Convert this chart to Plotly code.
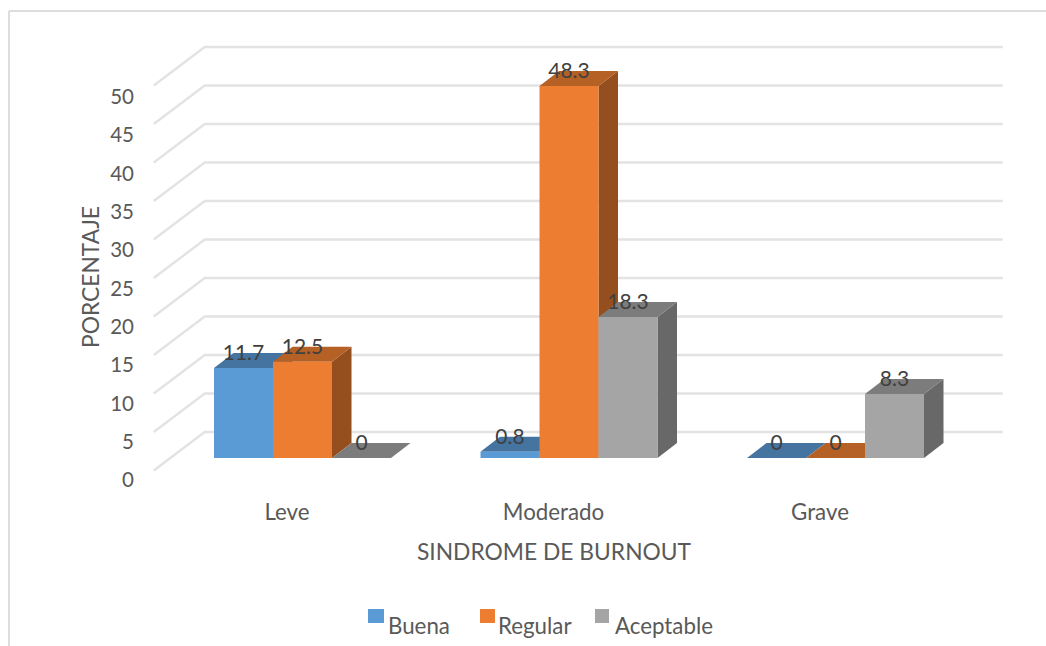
import plotly.graph_objects as go

# Survey results: share of respondents per burnout level and rating
categories = ["Leve", "Moderado", "Grave"]
buena = [11.7, 0.8, 0]
regular = [12.5, 48.3, 0]
aceptable = [0, 18.3, 8.3]
series_names = ["Buena", "Regular", "Aceptable"]
y_ticks = [0, 5, 10, 15, 20, 25, 30, 35, 40, 45, 50]

# (front, top, side) shades for each series
FACE_COLORS = [
    ("#5B9BD5", "#44749F", "#355F85"),
    ("#ED7D31", "#B56025", "#954F1E"),
    ("#A5A5A5", "#7C7C7C", "#686868"),
]
GRID = "#E3E3E3"
TEXT = "#595959"
LABEL = "#404040"
FONT = "Lato"

# Layout of the pseudo-3D box, in axis units
PX_X = 266.5          # pixels per category
PX_Y = 7.7            # pixels per percentage point
BAR_W = 59 / PX_X
BAR_DX = 19.5 / PX_X  # bar depth
BAR_DY = 15 / PX_Y
GROUP_SHIFT = 15.5 / PX_X
FLOOR_FRONT = -1.62   # elevation of the front edge of the floor
FLOOR_BACK = 3.38     # elevation of the back wall's zero line
WALL_DX = 51 / PX_X
SPAN = 798 / PX_X
LABEL_DROP = 2 / PX_Y

W, H = 1046, 646
fig = go.Figure()


def polygon(xs, ys, color):
    fig.add_trace(go.Scatter(
        x=xs + xs[:1], y=ys + ys[:1], mode="lines", fill="toself",
        fillcolor=color, line=dict(color=color, width=0),
        hoverinfo="skip", showlegend=False,
    ))


# Side-wall and back-wall gridlines
grid_x, grid_y = [], []
left = -0.5
for g in y_ticks:
    grid_x += [left, left + WALL_DX, left + WALL_DX + SPAN, None]
    grid_y += [g + FLOOR_FRONT, g + FLOOR_BACK, g + FLOOR_BACK, None]
fig.add_trace(go.Scatter(
    x=grid_x, y=grid_y, mode="lines", line=dict(color=GRID, width=2.4),
    hoverinfo="skip", showlegend=False,
))

# Bars, painted left to right so nearer faces hide the ones behind them
all_values = [buena, regular, aceptable]
label_x, label_y, label_text = [], [], []
for c in range(len(categories)):
    for s, values in enumerate(all_values):
        v = values[c]
        x0 = c + GROUP_SHIFT + (s - 1.5) * BAR_W
        x1 = x0 + BAR_W
        front, top, side = FACE_COLORS[s]
        if v > 0:
            polygon([x1, x1 + BAR_DX, x1 + BAR_DX, x1],
                    [0, BAR_DY, v + BAR_DY, v], side)
        polygon([x0, x1, x1 + BAR_DX, x0 + BAR_DX],
                [v, v, v + BAR_DY, v + BAR_DY], top)
        if v > 0:
            polygon([x0, x1, x1, x0], [0, 0, v, v], front)
        label_x.append((x0 + x1) / 2)
        label_y.append(v + BAR_DY - LABEL_DROP)
        label_text.append(str(v))

fig.add_trace(go.Scatter(
    x=label_x, y=label_y, text=label_text, mode="text",
    textposition="middle center",
    textfont=dict(family=FONT, size=21, color=LABEL),
    hoverinfo="skip", showlegend=False,
))

# Invisible trace that brings the shifted tick-label axis to life
fig.add_trace(go.Scatter(x=[0], y=[0], yaxis="y2", mode="none",
                         hoverinfo="skip", showlegend=False))

# Legend: swatches sit a little above their text
legend_items = [
    (368, 384, 386, FACE_COLORS[0][0]),
    (480, 495, 496, FACE_COLORS[1][0]),
    (595, 609, 613, FACE_COLORS[2][0]),
]
shapes = [
    dict(type="line", xref="paper", yref="paper", x0=9 / W, x1=1, y0=1 - 11 / H, y1=1 - 11 / H,
         line=dict(color="#DDDDDD", width=2)),
    dict(type="line", xref="paper", yref="paper", x0=9 / W, x1=9 / W, y0=0, y1=1 - 11 / H,
         line=dict(color="#DDDDDD", width=2)),
]
annotations = []
for name, (sx0, sx1, tx, color) in zip(series_names, legend_items):
    shapes.append(dict(type="rect", xref="paper", yref="paper", line_width=0, fillcolor=color,
                       x0=sx0 / W, x1=sx1 / W, y0=1 - 623 / H, y1=1 - 609 / H))
    annotations.append(dict(text=name, xref="paper", yref="paper", showarrow=False,
                            x=tx / W, y=1 - 625 / H, xanchor="left", yanchor="middle",
                            font=dict(family=FONT, size=22.3, color=TEXT)))

PLOT_L, PLOT_B = 62, 554
CENTER_0 = 287
fig.update_layout(
    width=W, height=H, margin=dict(l=0, r=0, t=0, b=0),
    paper_bgcolor="white", plot_bgcolor="white", showlegend=False,
    font=dict(family=FONT, size=20, color=TEXT),
    shapes=shapes, annotations=annotations,
    xaxis=dict(
        domain=[PLOT_L / W, 1],
        range=[(PLOT_L - CENTER_0) / PX_X, (W - CENTER_0) / PX_X],
        tickmode="array", tickvals=list(range(len(categories))), ticktext=categories,
        showgrid=False, zeroline=False, showline=False, ticks="",
        anchor="free", position=1 - 496.5 / H,
        title=dict(text="SINDROME DE BURNOUT", standoff=20, font=dict(size=22.8, color=TEXT)),
        tickfont=dict(size=22.3, color=TEXT),
    ),
    yaxis=dict(
        domain=[1 - PLOT_B / H, 1],
        range=[(458 - PLOT_B) / PX_Y, 458 / PX_Y],
        visible=False,
    ),
    yaxis2=dict(
        overlaying="y", anchor="free", position=134 / W, side="left",
        domain=[1 - PLOT_B / H, 1],
        range=[(480 - PLOT_B) / 7.66, 480 / 7.66],
        tickmode="array", tickvals=y_ticks,
        showgrid=False, zeroline=False, showline=False, ticks="",
        tickfont=dict(size=20.5, color=TEXT),
        title=dict(text="PORCENTAJE", standoff=3, font=dict(size=22.8, color=TEXT)),
    ),
)

fig.write_html("out.html")
